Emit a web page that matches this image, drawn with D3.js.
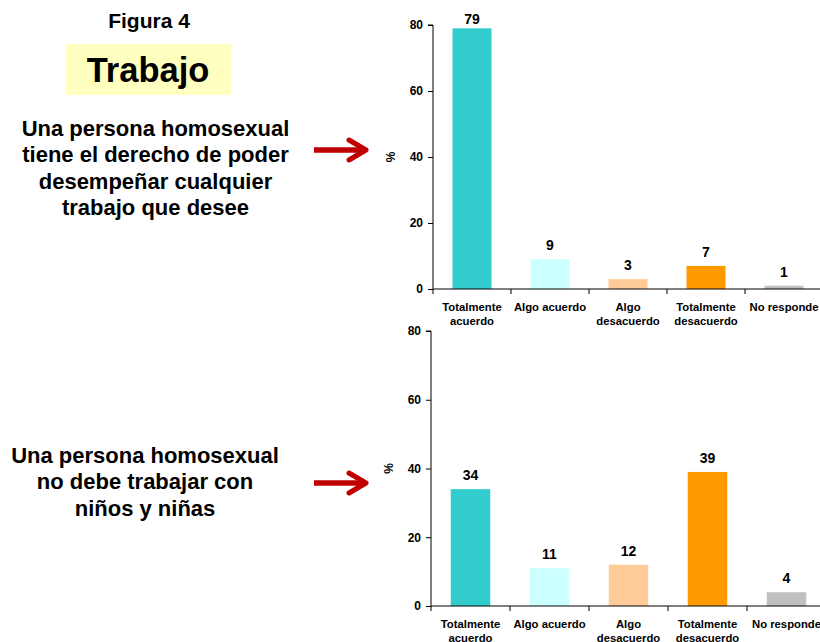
<!DOCTYPE html>
<html>
<head>
<meta charset="utf-8">
<script src="https://cdn.jsdelivr.net/npm/d3@7.9.0/dist/d3.min.js"></script>
<style>
  body { margin: 0; background: #fff; }
  svg { display: block; font-family: Arial, "Liberation Sans", sans-serif; }
</style>
</head>
<body>
<div id="chart"></div>
<script>
// data
const categories = ["Totalmente acuerdo", "Algo acuerdo", "Algo desacuerdo", "Totalmente desacuerdo", "No responde"];
const catLines = [["Totalmente", "acuerdo"], ["Algo acuerdo"], ["Algo", "desacuerdo"], ["Totalmente", "desacuerdo"], ["No responde"]];
const colors = ["#33cccc", "#ccffff", "#ffcc99", "#ff9900", "#c0c0c0"];
const valuesDerecho = [79, 9, 3, 7, 1];
const valuesNinos = [34, 11, 12, 39, 4];
const yTicks = [0, 20, 40, 60, 80];

const W = 820, H = 642;
const svg = d3.select("#chart").append("svg").attr("width", W).attr("height", H);

// left side text
svg.append("text").attr("x", 149).attr("y", 27.5).attr("text-anchor", "middle")
  .attr("font-size", 21).attr("font-weight", "bold").text("Figura 4");
svg.append("rect").attr("x", 66).attr("y", 44).attr("width", 165).attr("height", 51).attr("fill", "#ffffc0");
svg.append("text").attr("x", 148).attr("y", 82).attr("text-anchor", "middle")
  .attr("font-size", 34.5).attr("font-weight", "bold").text("Trabajo");

function paragraph(lines, cx, y0) {
  const t = svg.append("text").attr("text-anchor", "middle").attr("font-size", 22).attr("font-weight", "bold");
  lines.forEach((l, i) => t.append("tspan").attr("x", cx).attr("y", y0 + i * 26.3).text(l));
}
paragraph(["Una persona homosexual", "tiene el derecho de poder", "desempeñar cualquier", "trabajo que desee"], 155.5, 136);
paragraph(["Una persona homosexual", "no debe trabajar con", "niños y niñas"], 145, 463);

function arrow(y) {
  const g = svg.append("g").attr("stroke", "#c00000").attr("fill", "none").attr("stroke-width", 5.5);
  g.append("line").attr("x1", 314).attr("x2", 364).attr("y1", y).attr("y2", y);
  g.append("path").attr("d", `M349,${y - 10} L366,${y} L349,${y + 10}`)
    .attr("stroke-width", 5).attr("stroke-linejoin", "round").attr("stroke-linecap", "round");
}
arrow(150);
arrow(483);

function barChart(values, x0, x1, yTop, yBottom) {
  const x = d3.scaleBand().domain(categories).range([x0, x1]).paddingInner(0.5).paddingOuter(0.25);
  const y = d3.scaleLinear().domain([0, 80]).range([yBottom, yTop]);
  const g = svg.append("g");

  g.selectAll("rect.bar").data(values).join("rect")
    .attr("class", "bar")
    .attr("x", (d, i) => x(categories[i]))
    .attr("width", x.bandwidth())
    .attr("y", d => y(d))
    .attr("height", d => yBottom - y(d))
    .attr("fill", (d, i) => colors[i]);

  g.selectAll("text.val").data(values).join("text")
    .attr("class", "val")
    .attr("x", (d, i) => x(categories[i]) + x.bandwidth() / 2)
    .attr("y", d => Math.max(y(d) - 9, yTop - 1))
    .attr("text-anchor", "middle").attr("font-size", 14).attr("font-weight", "bold")
    .text(d => d);

  // y axis
  const ya = g.append("g").attr("transform", `translate(${x0},0)`)
    .call(d3.axisLeft(y).tickValues(yTicks).tickSize(5).tickPadding(5));
  ya.select(".domain").attr("stroke", "#000").attr("d", `M-5,${yTop}H0V${yBottom}`);
  ya.selectAll("text").attr("font-size", 12).attr("font-weight", "bold").attr("fill", "#000")
    .attr("font-family", "Arial, 'Liberation Sans', sans-serif");

  // x axis: line with tick marks at category boundaries
  g.append("line").attr("x1", x0).attr("x2", x1).attr("y1", yBottom).attr("y2", yBottom).attr("stroke", "#000");
  const step = x.step();
  const bounds = d3.range(categories.length + 1).map(i => x0 + i * step);
  g.selectAll("line.tk").data(bounds).join("line").attr("class", "tk")
    .attr("x1", d => d).attr("x2", d => d).attr("y1", yBottom).attr("y2", yBottom + 5).attr("stroke", "#000");

  catLines.forEach((lines, i) => {
    const t = g.append("text").attr("text-anchor", "middle").attr("font-size", 11.3).attr("font-weight", "bold");
    lines.forEach((l, j) => t.append("tspan")
      .attr("x", x(categories[i]) + x.bandwidth() / 2)
      .attr("y", yBottom + 22 + j * 13.5).text(l));
  });

  g.append("text").attr("transform", `translate(${x0 - 38},${(yTop + yBottom) / 2}) rotate(-90)`)
    .attr("text-anchor", "middle").attr("font-size", 12).attr("font-weight", "bold").text("%");
}

barChart(valuesDerecho, 433, 823, 25, 289);
barChart(valuesNinos, 431, 826, 331, 606);
</script>
</body>
</html>
